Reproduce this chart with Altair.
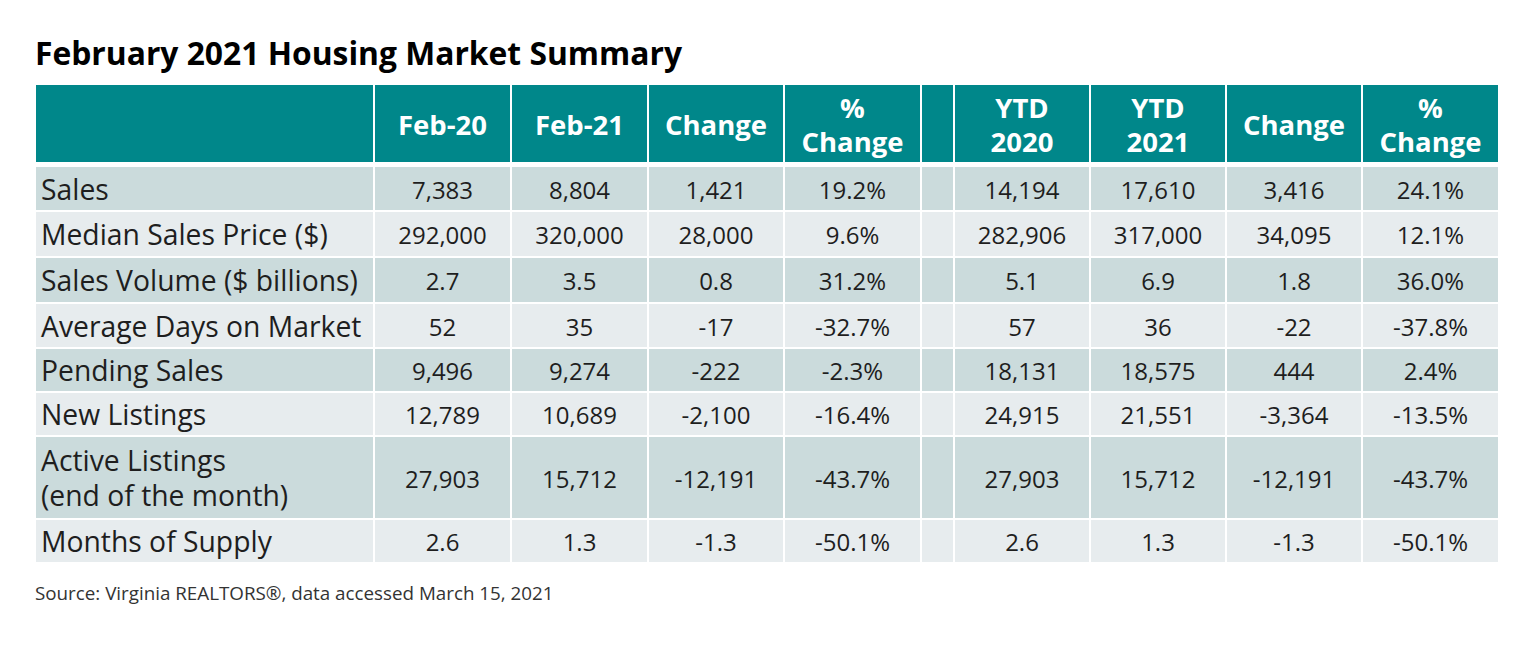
import altair as alt
import pandas as pd
import numpy as np

# ---------------- data ----------------
title_text = "February 2021 Housing Market Summary"
source_text = "Source: Virginia REALTORS®, data accessed March 15, 2021"

headers = ["", "Feb-20", "Feb-21", "Change", "%\nChange", "", "YTD\n2020", "YTD\n2021", "Change", "%\nChange"]
labels = ["Sales", "Median Sales Price ($)", "Sales Volume ($ billions)", "Average Days on Market",
          "Pending Sales", "New Listings", "Active Listings\n(end of the month)", "Months of Supply"]
feb20 = ["7,383", "292,000", "2.7", "52", "9,496", "12,789", "27,903", "2.6"]
feb21 = ["8,804", "320,000", "3.5", "35", "9,274", "10,689", "15,712", "1.3"]
chg_m = ["1,421", "28,000", "0.8", "-17", "-222", "-2,100", "-12,191", "-1.3"]
pct_m = ["19.2%", "9.6%", "31.2%", "-32.7%", "-2.3%", "-16.4%", "-43.7%", "-50.1%"]
ytd20 = ["14,194", "282,906", "5.1", "57", "18,131", "24,915", "27,903", "2.6"]
ytd21 = ["17,610", "317,000", "6.9", "36", "18,575", "21,551", "15,712", "1.3"]
chg_y = ["3,416", "34,095", "1.8", "-22", "444", "-3,364", "-12,191", "-1.3"]
pct_y = ["24.1%", "12.1%", "36.0%", "-37.8%", "2.4%", "-13.5%", "-43.7%", "-50.1%"]

# ---------------- layout (style) ----------------
W, H, M = 1536, 645, 8
TABLE_LEFT = 35
COL_W = [339, 137, 137, 136, 137, 33, 136, 136, 136, 137]
HEADER_TOP, HEADER_H, GAP = 84, 79, 3
ROW_H = [45, 46, 46, 45, 44, 44, 83, 44]
HEAD_LH, BODY_LH = 34, 35
TEXT_SHIFT = 3

TEAL = "#00878a"
DARK = "#cbdbdc"
LIGHT = "#e7ecee"
TEXT = "#1e1e1e"
FONT = "Open Sans"

col_edges = TABLE_LEFT + np.concatenate([[0], np.cumsum(COL_W)])
body_top = HEADER_TOP + HEADER_H + GAP
row_edges = body_top + np.concatenate([[0], np.cumsum(ROW_H)])

columns = [labels, feb20, feb21, chg_m, pct_m, [""] * 8, ytd20, ytd21, chg_y, pct_y]


def block_y(center, text, lh):
    n = text.count("\n") + 1
    return center + TEXT_SHIFT - (n - 1) * lh / 2


rects, texts = [], []
for c in range(len(COL_W)):
    x0, x1 = col_edges[c], col_edges[c + 1]
    rects.append(dict(x=x0, x2=x1, y=HEADER_TOP, y2=HEADER_TOP + HEADER_H, fill=TEAL))
    if headers[c]:
        texts.append(dict(x=(x0 + x1) / 2,
                          y=block_y(HEADER_TOP + HEADER_H / 2, headers[c], HEAD_LH),
                          t=headers[c], kind="head"))
    for r in range(len(labels)):
        y0, y1 = row_edges[r], row_edges[r + 1]
        rects.append(dict(x=x0, x2=x1, y=y0, y2=y1, fill=DARK if r % 2 == 0 else LIGHT))
        val = columns[c][r]
        if not val:
            continue
        yc = block_y((y0 + y1) / 2, val, BODY_LH)
        if c == 0:
            texts.append(dict(x=x0 + 6, y=yc, t=val, kind="label"))
        else:
            texts.append(dict(x=(x0 + x1) / 2, y=yc, t=val, kind="value"))

rect_df = pd.DataFrame(rects)
text_df = pd.DataFrame(texts)

xs = alt.Scale(domain=[M, W - M], range=[0, W - 2 * M])
ys = alt.Scale(domain=[M, H - M], range=[0, H - 2 * M])
X = lambda f: alt.X(f, type="quantitative", scale=xs, axis=None)
Y = lambda f: alt.Y(f, type="quantitative", scale=ys, axis=None)

cells = alt.Chart(rect_df).mark_rect(stroke="white", strokeWidth=2).encode(
    x=X("x"), x2="x2", y=Y("y"), y2="y2",
    fill=alt.Fill("fill:N", scale=None),
)

head = alt.Chart(text_df[text_df.kind == "head"]).mark_text(
    font=FONT, fontSize=27.5, fontWeight="bold", color="white", align="center",
    baseline="middle", lineBreak="\n", lineHeight=HEAD_LH,
).encode(x=X("x"), y=Y("y"), text="t:N")

lab = alt.Chart(text_df[text_df.kind == "label"]).mark_text(
    font=FONT, fontSize=28.3, color=TEXT, align="left", baseline="middle",
    lineBreak="\n", lineHeight=BODY_LH,
).encode(x=X("x"), y=Y("y"), text="t:N")

vals = alt.Chart(text_df[text_df.kind == "value"]).mark_text(
    font=FONT, fontSize=24, color=TEXT, align="center", baseline="middle",
).encode(x=X("x"), y=Y("y"), text="t:N")

title_df = pd.DataFrame([dict(x=TABLE_LEFT, y=65, t=title_text)])
title = alt.Chart(title_df).mark_text(
    font=FONT, fontSize=31.8, fontWeight="bold", color="#000000", align="left", baseline="alphabetic",
).encode(x=X("x"), y=Y("y"), text="t:N")

src_df = pd.DataFrame([dict(x=TABLE_LEFT, y=600, t=source_text)])
src = alt.Chart(src_df).mark_text(
    font=FONT, fontSize=18.8, color="#333333", align="left", baseline="alphabetic",
).encode(x=X("x"), y=Y("y"), text="t:N")

chart = alt.layer(cells, head, lab, vals, title, src).properties(
    width=W - 2 * M, height=H - 2 * M, padding=0, autosize="none",
).configure(background="white", view=alt.ViewConfig(stroke=None))

chart.save("out.html", embed_options={"renderer": "svg", "actions": False})
